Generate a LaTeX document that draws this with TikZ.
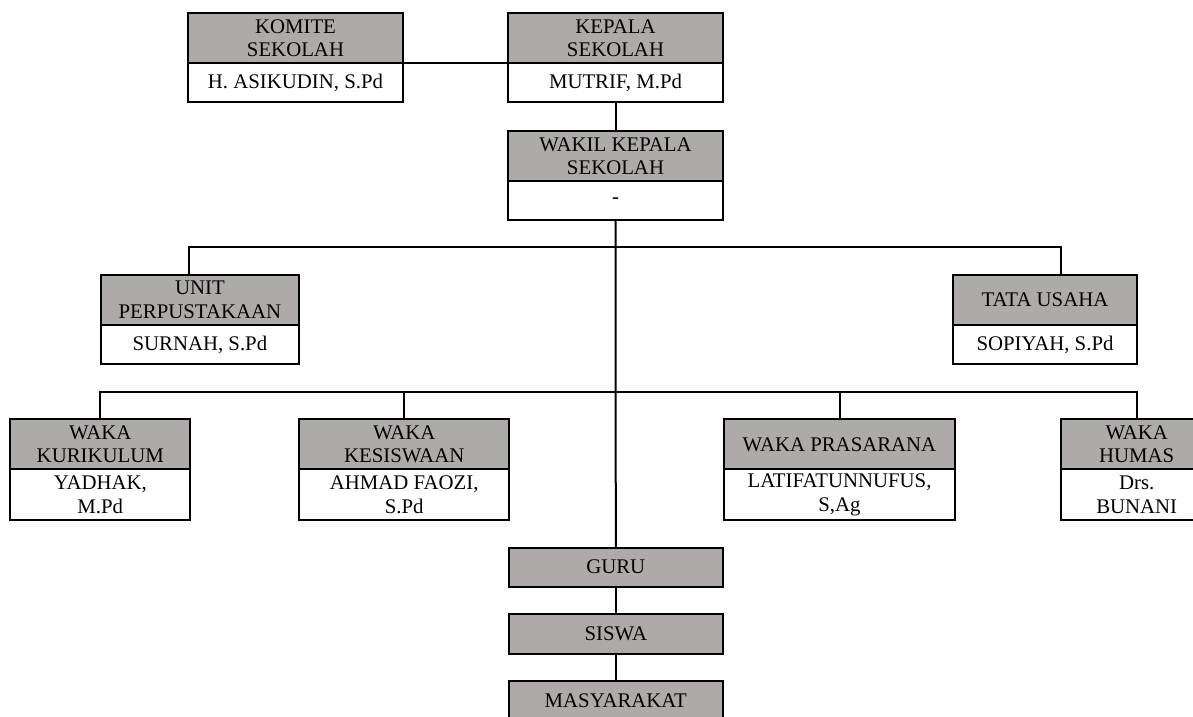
\documentclass[tikz,border=0pt]{standalone}
\usepackage{fontspec}
\setmainfont{Liberation Serif}
\usetikzlibrary{positioning}
\definecolor{kotakgray}{RGB}{174,170,169}
\tikzset{
  jabatan/.style={draw, line width=2pt, fill=kotakgray, align=center, inner sep=1pt, outer sep=0pt,
    minimum height=50pt, font=\fontsize{20.8}{23.5}\selectfont},
  nama/.style={draw, line width=2pt, fill=white, align=center, inner sep=1pt, outer sep=0pt,
    minimum height=39pt, font=\fontsize{20.8}{23.5}\selectfont},
  garis/.style={line width=2pt}
}
\begin{document}
\begin{tikzpicture}[x=1pt,y=-1pt]
\clip (0,0) rectangle (1193,716);
\fill[white] (0,0) rectangle (1193,716);

% pimpinan
\node[jabatan, minimum width=214.4pt] (komiteH) at (295.5,38) {KOMITE\\SEKOLAH};
\node[nama, minimum width=214.4pt, below=0pt of komiteH] (komiteN) {H. ASIKUDIN, S.Pd};
\node[jabatan, minimum width=214.4pt] (kepalaH) at (615.5,38) {KEPALA\\SEKOLAH};
\node[nama, minimum width=214.4pt, below=0pt of kepalaH] (kepalaN) {MUTRIF, M.Pd};
\node[jabatan, minimum width=214.4pt] (wakilH) at (615.5,156) {WAKIL KEPALA\\SEKOLAH};
\node[nama, minimum width=214.4pt, below=0pt of wakilH] (wakilN) {-};

% unit dan tata usaha
\node[jabatan, minimum width=198.3pt] (unitH) at (199.9,300) {UNIT\\PERPUSTAKAAN};
\node[nama, minimum width=198.3pt, below=0pt of unitH] (unitN) {SURNAH, S.Pd};
\node[jabatan, minimum width=183.4pt] (tataH) at (1045,300) {TATA USAHA};
\node[nama, minimum width=183.4pt, below=0pt of tataH] (tataN) {SOPIYAH, S.Pd};

% wakil kepala bidang
\node[jabatan, minimum width=180pt] (kurH) at (100.3,444.3) {WAKA\\KURIKULUM};
\node[nama, minimum width=180pt, minimum height=51pt, below=0pt of kurH] (kurN) {YADHAK,\\M.Pd};
\node[jabatan, minimum width=210.3pt] (kesH) at (404.2,444.3) {WAKA\\KESISWAAN};
\node[nama, minimum width=210.3pt, minimum height=51pt, below=0pt of kesH] (kesN) {AHMAD FAOZI,\\S.Pd};
\node[jabatan, minimum width=231pt] (prasH) at (839.5,444.3) {WAKA PRASARANA};
\node[nama, minimum width=231pt, minimum height=51pt, below=0pt of prasH] (prasN) {LATIFATUNNUFUS,\\S,Ag};
\node[jabatan, minimum width=151.4pt] (humasH) at (1136.7,444.3) {WAKA\\HUMAS};
\node[nama, minimum width=151.4pt, minimum height=51pt, below=0pt of humasH] (humasN) {Drs.\\BUNANI};

% guru, siswa, masyarakat
\node[jabatan, minimum width=213.7pt, minimum height=39pt] (guru) at (615.8,567.2) {GURU};
\node[jabatan, minimum width=213.7pt, minimum height=40pt] (siswa) at (615.8,634) {SISWA};
\node[jabatan, minimum width=213.7pt, minimum height=40pt] (masy) at (615.8,701) {MASYARAKAT};

% garis
\draw[garis] (komiteH.south east) -- (kepalaH.south west);
\draw[garis] (kepalaN.south) -- (wakilH.north);
\draw[garis] (wakilN.south) -- (guru.north);
\draw[garis] ([xshift=-10.9pt]unitH.north) -- ++(0,-28) -| ([xshift=16pt]tataH.north);
\draw[garis] (kurH.north) -- ++(0,-27) -| (humasH.north);
\foreach \n in {kesH,prasH}
  \draw[garis] (\n.north) -- ++(0,-27);
\draw[garis] (guru.south) -- (siswa.north);
\draw[garis] (siswa.south) -- (masy.north);
\end{tikzpicture}
\end{document}
